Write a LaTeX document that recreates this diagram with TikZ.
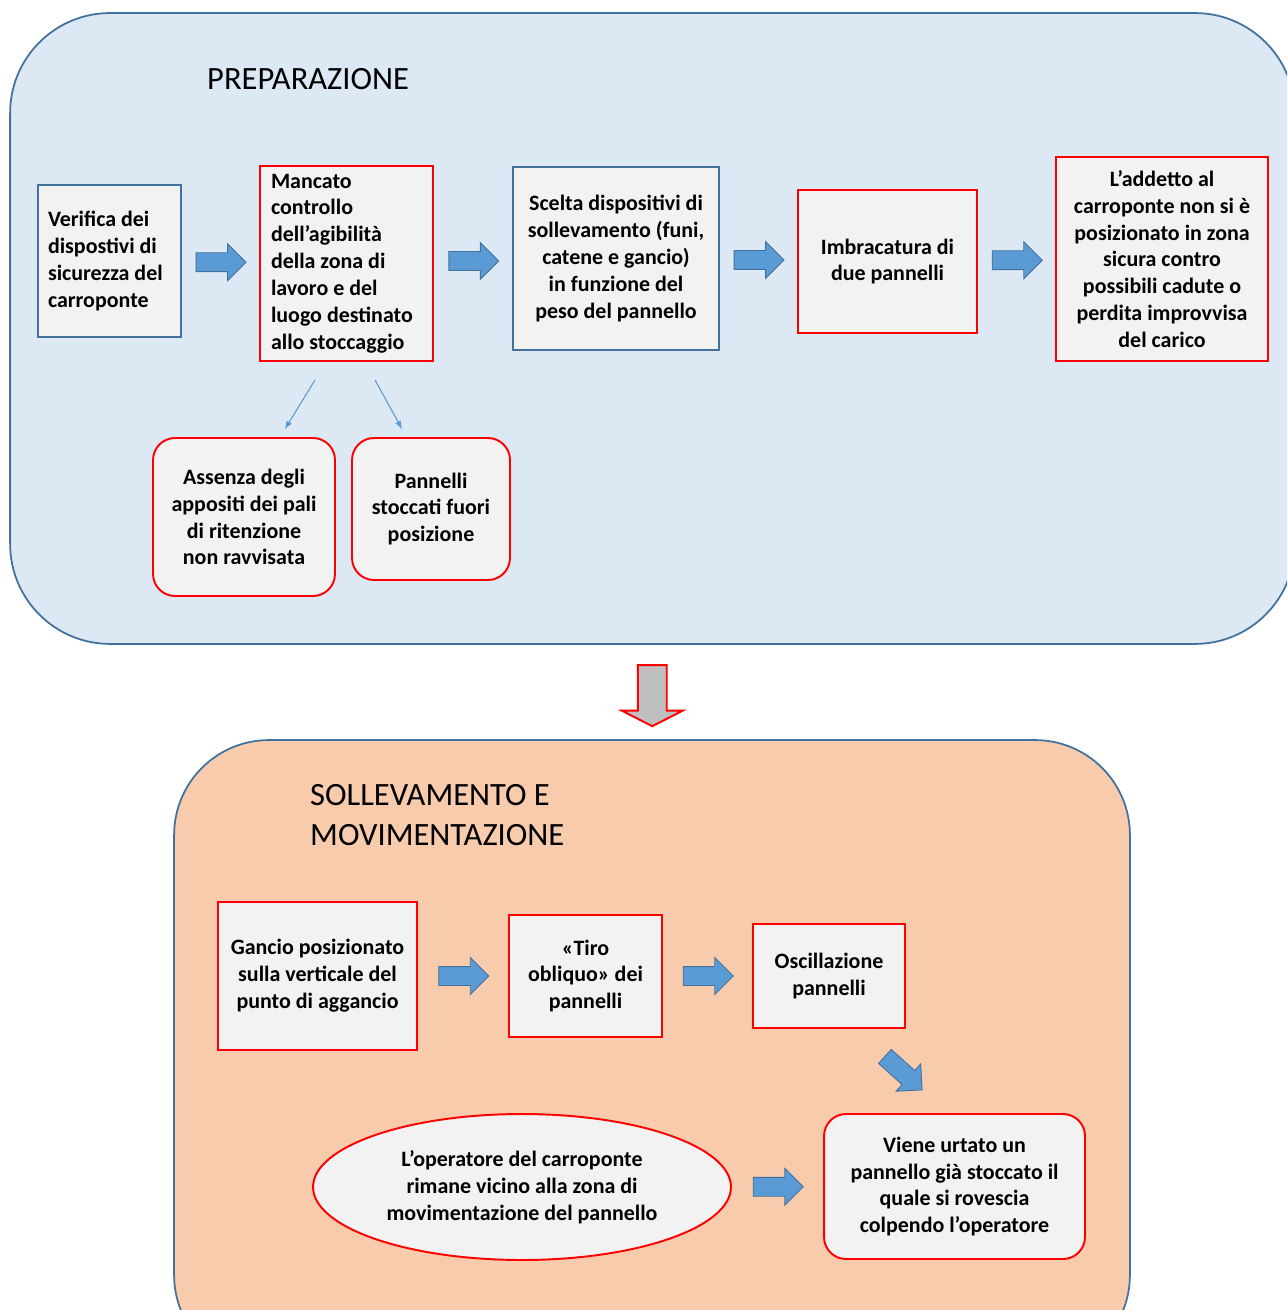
\documentclass[tikz,border=0pt]{standalone}
\usepackage{fontspec}
\setmainfont{Carlito}
\usepackage{tikz}
\usetikzlibrary{calc}
\usetikzlibrary{shapes.geometric,shapes.arrows}
\usetikzlibrary{positioning}
\usetikzlibrary{arrows.meta}
\tikzset{>=latex}

\definecolor{prepblue}{RGB}{221,232,245}
\definecolor{movorange}{RGB}{248,203,173}
\definecolor{panelline}{RGB}{65,113,156}
\definecolor{boxgray}{RGB}{242,242,242}
\definecolor{arrowblue}{RGB}{91,155,213}

\newcommand{\bodyfont}{\fontsize{12.5}{15.3}\selectfont\bfseries}
\newcommand{\titlefont}{\fontsize{18.5}{22.8}\selectfont}

\tikzset{
  panel/.style={draw=panelline, line width=1pt, rounded corners=2cm, inner sep=0pt},
  stepbox/.style={fill=boxgray, line width=1.1pt, inner sep=0pt, align=center, font=\bodyfont},
  redbox/.style={stepbox, draw=red},
  bluebox/.style={stepbox, draw=panelline, line width=0.8pt},
  roundbox/.style={redbox, rounded corners=0.44cm},
  blockarrow/.style={single arrow, fill=arrowblue, draw=panelline, line width=0.5pt,
    minimum height=1cm, single arrow head extend=0.18cm, inner xsep=0pt, inner ysep=0.18cm},
  hblock/.style={blockarrow, xshift=-0.08cm},
  thinarrow/.style={->, draw=arrowblue, line width=0.6pt},
}

\begin{document}
\begin{tikzpicture}[x=0.02cm, y=-0.02cm]
  % --- Page frame ---
  \useasboundingbox (0,0) rectangle (1287,1310);
  \clip (0,0) rectangle (1287,1310);

  % --- 1. The two phases ---
  \node[panel, fill=prepblue, minimum width=25.7cm, minimum height=12.62cm] (prep) at (652.5,328.5) {};
  \node[panel, fill=movorange, rounded corners=1.9cm, minimum width=19.12cm, minimum height=12.6cm] (movim) at (652,1055) {};

  \node[font=\titlefont, anchor=west] (preptitle) at (201,79) {PREPARAZIONE};
  \node[font=\titlefont, anchor=west, align=flush left] (movtitle) at (304,815) {SOLLEVAMENTO E\\MOVIMENTAZIONE};

  % --- 2. Preparazione ---
  \node[bluebox, minimum width=2.86cm, minimum height=3.04cm, text width=2.46cm, align=flush left] (verifica) at (109.5,261)
    {Verifica dei\\dispostivi di\\sicurezza del\\carroponte};
  \node[redbox, minimum width=3.46cm, minimum height=3.9cm, text width=3.02cm, align=flush left] (mancato) at (346.5,263.5)
    {Mancato\\controllo\\dell’agibilità\\della zona di\\lavoro e del\\luogo destinato\\allo stoccaggio};
  \node[bluebox, minimum width=4.12cm, minimum height=3.66cm] (scelta) at (616,258.5)
    {Scelta dispositivi di\\sollevamento (funi,\\catene e gancio)\\in funzione del\\peso del pannello};
  \node[redbox, minimum width=3.58cm, minimum height=2.86cm] (imbrac) at (887.5,261.5)
    {Imbracatura di\\due pannelli};
  \node[redbox, minimum width=4.24cm, minimum height=4.08cm] (addetto) at (1162,259)
    {L’addetto al\\carroponte non si è\\posizionato in zona\\sicura contro\\possibili cadute o\\perdita improvvisa\\del carico};

  % causes of the missing check
  \node[roundbox, minimum width=3.64cm, minimum height=3.16cm] (assenza) at (244,517)
    {Assenza degli\\appositi dei pali\\di ritenzione\\non ravvisata};
  \node[roundbox, minimum width=3.16cm, minimum height=2.84cm] (stoccati) at (431,509)
    {Pannelli\\stoccati fuori\\posizione};

  \draw[thinarrow] ([xshift=-0.63cm,yshift=-0.36cm]mancato.south) -- ([xshift=0.82cm,yshift=0.16cm]assenza.north);
  \draw[thinarrow] ([xshift=0.57cm,yshift=-0.36cm]mancato.south) -- ([xshift=-0.58cm,yshift=0.16cm]stoccati.north);

  % block arrows between the steps
  \node[hblock] (p1) at ($(verifica.east)!0.5!(mancato.west)$ |- 0,257) {};
  \node[hblock] (p2) at ($(mancato.east)!0.5!(scelta.west)$ |- 0,257) {};
  \node[hblock] (p3) at ($(scelta.east)!0.5!(imbrac.west)$ |- 0,257) {};
  \node[hblock] (p4) at ($(imbrac.east)!0.5!(addetto.west)$ |- 0,257) {};

  % --- 3. Passage to the next phase ---
  \node[single arrow, rotate=-90, fill=black!25, draw=red, line width=1.1pt,
    minimum height=1.22cm, inner xsep=0pt, inner ysep=0.27cm,
    single arrow head extend=0.32cm, single arrow tip angle=126] (next) at ($(prep.south)!0.5!(movim.north)$) {};

  % --- 4. Sollevamento e movimentazione ---
  \node[redbox, minimum width=3.98cm, minimum height=2.96cm] (gancio) at (317.5,976)
    {Gancio posizionato\\sulla verticale del\\punto di aggancio};
  \node[redbox, minimum width=3.06cm, minimum height=2.44cm] (tiro) at (585.5,976)
    {«Tiro\\obliquo» dei\\pannelli};
  \node[redbox, minimum width=3.04cm, minimum height=2.08cm] (oscill) at (829,976)
    {Oscillazione\\pannelli};
  \node[roundbox, minimum width=5.22cm, minimum height=2.9cm] (urtato) at (954.5,1186.5)
    {Viene urtato un\\pannello già stoccato il\\quale si rovescia\\colpendo l’operatore};
  \node[ellipse, fill=boxgray, draw=red, line width=1.1pt, inner sep=0pt, align=center, font=\bodyfont,
    minimum width=8.36cm, minimum height=2.92cm] (operatore) at (522,1187)
    {L’operatore del carroponte\\rimane vicino alla zona di\\movimentazione del pannello};

  \node[hblock] (m1) at ($(gancio.east)!0.5!(tiro.west)$) {};
  \node[hblock] (m2) at ($(tiro.east)!0.5!(oscill.west)$) {};
  \node[blockarrow, rotate=-42] (m3) at (900,1070) {};
  \node[hblock] (m4) at ($(operatore.east)!0.5!(urtato.west)$) {};
\end{tikzpicture}
\end{document}
